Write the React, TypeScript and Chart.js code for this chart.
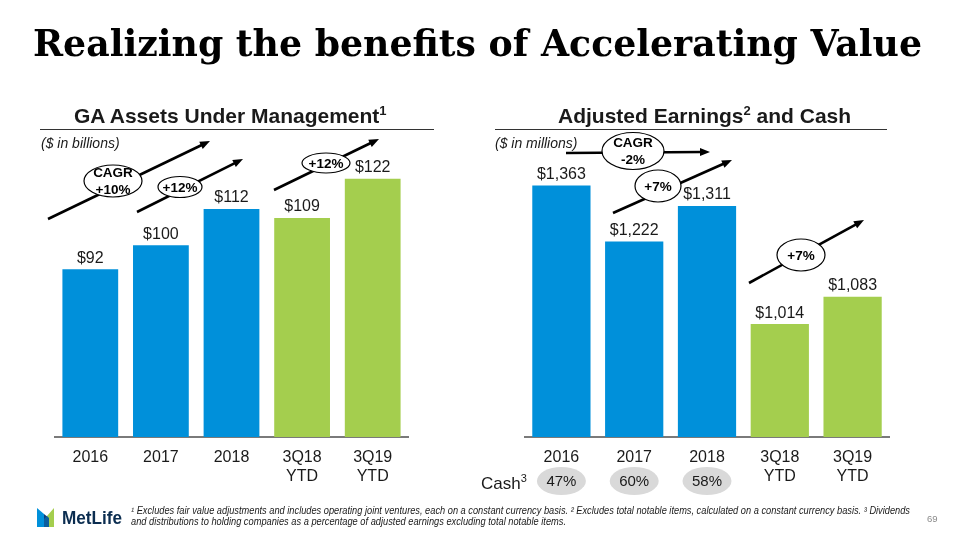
import React, { useEffect, useRef } from "react";
import { Chart, registerables } from "chart.js";

Chart.register(...registerables);

// ---------------- data ----------------
const categories: string[][] = [["2016"], ["2017"], ["2018"], ["3Q18", "YTD"], ["3Q19", "YTD"]];
const gaAssetsBillions = [92, 100, 112, 109, 122];
const adjustedEarningsMillions = [1363, 1222, 1311, 1014, 1083];
const cashPercent = [47, 60, 58];
const gaAxisRange = [36.5, 131.5];
const earningsAxisRange = [730, 1452];

// ---------------- style ----------------
const BLUE = "#0090DA";
const GREEN = "#A4CE4E";
const barColors = [BLUE, BLUE, BLUE, GREEN, GREEN];
const SANS = '"Liberation Sans", Arial, Helvetica, sans-serif';
const TEXT = "#1a1a1a";

const valueLabels = {
  id: "valueLabels",
  afterDatasetsDraw(chart: any) {
    const ctx = chart.ctx;
    const meta = chart.getDatasetMeta(0);
    const data = chart.data.datasets[0].data as number[];
    ctx.save();
    ctx.font = `16px ${SANS}`;
    ctx.fillStyle = TEXT;
    ctx.textAlign = "center";
    ctx.textBaseline = "bottom";
    meta.data.forEach((bar: any, i: number) => {
      ctx.fillText("$" + data[i].toLocaleString("en-US"), bar.x, bar.y - 3);
    });
    ctx.restore();
  },
};

const cashRow = {
  id: "cashRow",
  afterDraw(chart: any) {
    const ctx = chart.ctx;
    const xs = chart.scales.x;
    ctx.save();
    cashPercent.forEach((v, i) => {
      const x = xs.getPixelForValue(i);
      ctx.beginPath();
      ctx.ellipse(x, 481, 24.5, 14, 0, 0, Math.PI * 2);
      ctx.fillStyle = "#d9d9d9";
      ctx.fill();
      ctx.fillStyle = TEXT;
      ctx.font = `15px ${SANS}`;
      ctx.textAlign = "center";
      ctx.textBaseline = "middle";
      ctx.fillText(`${v}%`, x, 482);
    });
    ctx.restore();
  },
};

type PanelProps = {
  values: number[];
  range: number[];
  padLeft: number;
  padRight: number;
  barPct: number;
  left: number;
  extra?: any[];
};

function BarPanel({ values, range, padLeft, padRight, barPct, left, extra = [] }: PanelProps) {
  const ref = useRef<HTMLCanvasElement>(null);
  useEffect(() => {
    const chart = new Chart(ref.current as HTMLCanvasElement, {
      type: "bar",
      data: {
        labels: categories,
        datasets: [
          {
            data: values,
            backgroundColor: barColors,
            borderWidth: 0,
            barPercentage: barPct,
            categoryPercentage: 1,
          },
        ],
      },
      options: {
        animation: false,
        responsive: false,
        maintainAspectRatio: false,
        events: [],
        layout: { padding: { left: padLeft, right: padRight, top: 150, bottom: 0 } },
        plugins: {
          legend: { display: false },
          tooltip: { enabled: false },
          title: { display: false },
        },
        scales: {
          x: {
            grid: { display: false, drawTicks: false },
            border: { display: true, color: "#7a7a7a", width: 2 },
            ticks: {
              color: TEXT,
              font: { family: SANS, size: 16 },
              padding: 11,
              maxRotation: 0,
              autoSkip: false,
            },
            afterFit: (s: any) => {
              s.height = 103;
            },
          },
          y: { display: false, min: range[0], max: range[1] },
        },
      } as any,
      plugins: [valueLabels, ...extra],
    });
    return () => chart.destroy();
  }, []);
  return (
    <canvas
      ref={ref}
      width={480}
      height={540}
      style={{ position: "absolute", left, top: 0, width: 480, height: 540 }}
    />
  );
}

function Arrow({ x1, y1, x2, y2 }: { x1: number; y1: number; x2: number; y2: number }) {
  const a = Math.atan2(y2 - y1, x2 - x1);
  const L = 10;
  const W = 4;
  const bx = x2 - L * Math.cos(a);
  const by = y2 - L * Math.sin(a);
  const px = -Math.sin(a) * W;
  const py = Math.cos(a) * W;
  return (
    <g>
      <line x1={x1} y1={y1} x2={bx + 2 * Math.cos(a)} y2={by + 2 * Math.sin(a)} stroke="#000" strokeWidth={2.6} />
      <polygon points={`${x2},${y2} ${bx + px},${by + py} ${bx - px},${by - py}`} fill="#000" />
    </g>
  );
}

function Bubble({ cx, cy, rx, ry, lines }: { cx: number; cy: number; rx: number; ry: number; lines: string[] }) {
  const gap = 17;
  const start = cy - ((lines.length - 1) * gap) / 2;
  return (
    <g>
      <ellipse cx={cx} cy={cy} rx={rx} ry={ry} fill="#fff" stroke="#000" strokeWidth={1.2} />
      {lines.map((t, i) => (
        <text
          key={i}
          x={cx}
          y={start + i * gap}
          textAnchor="middle"
          dominantBaseline="central"
          fontFamily={SANS}
          fontWeight="bold"
          fontSize={13.5}
          fill="#000"
        >
          {t}
        </text>
      ))}
    </g>
  );
}

function Overlay() {
  return (
    <svg
      width={960}
      height={540}
      style={{ position: "absolute", left: 0, top: 0, pointerEvents: "none" }}
    >
      <text
        x={33}
        y={56}
        fontFamily='"DejaVu Serif", "Liberation Serif", serif'
        fontWeight="bold"
        fontSize={37}
        textLength={889}
        lengthAdjust="spacingAndGlyphs"
        fill="#000"
      >
        Realizing the benefits of Accelerating Value
      </text>

      {/* panel headers */}
      <text x={74} y={123} fontFamily={SANS} fontWeight="bold" fontSize={21} fill={TEXT}>
        GA Assets Under Management
        <tspan fontSize={13} dy={-8}>1</tspan>
      </text>
      <line x1={40} y1={129.5} x2={434} y2={129.5} stroke="#333" strokeWidth={1} />
      <text x={558} y={123} fontFamily={SANS} fontWeight="bold" fontSize={21} fill={TEXT}>
        Adjusted Earnings
        <tspan fontSize={13} dy={-8}>2</tspan>
        <tspan dy={8}> and Cash</tspan>
      </text>
      <line x1={495} y1={129.5} x2={887} y2={129.5} stroke="#333" strokeWidth={1} />

      <text x={41} y={148} fontFamily={SANS} fontStyle="italic" fontSize={14} fill={TEXT}>
        ($ in billions)
      </text>
      <text x={495} y={148} fontFamily={SANS} fontStyle="italic" fontSize={14} fill={TEXT}>
        ($ in millions)
      </text>

      {/* growth annotations, left */}
      <Arrow x1={48} y1={219} x2={210} y2={141} />
      <Bubble cx={113} cy={181} rx={29} ry={16} lines={["CAGR", "+10%"]} />
      <Arrow x1={137} y1={212} x2={243} y2={159} />
      <Bubble cx={180} cy={187} rx={22} ry={10.5} lines={["+12%"]} />
      <Arrow x1={274} y1={190} x2={379} y2={139} />
      <Bubble cx={326} cy={163} rx={24} ry={10} lines={["+12%"]} />

      {/* growth annotations, right */}
      <Arrow x1={566} y1={153} x2={710} y2={152} />
      <Bubble cx={633} cy={151} rx={31} ry={18.5} lines={["CAGR", "-2%"]} />
      <Arrow x1={613} y1={213} x2={732} y2={160} />
      <Bubble cx={658} cy={186} rx={23} ry={16} lines={["+7%"]} />
      <Arrow x1={749} y1={283} x2={864} y2={220} />
      <Bubble cx={801} cy={255} rx={24} ry={16} lines={["+7%"]} />

      {/* cash label */}
      <text x={481} y={489} fontFamily={SANS} fontSize={17} fill={TEXT}>
        Cash
        <tspan fontSize={11} dy={-7}>3</tspan>
      </text>

      {/* logo */}
      <polygon points="37,508 44,514 44,527 37,527" fill="#0090DA" />
      <polygon points="44,514 49,518 49,527 44,527" fill="#0B3E7A" />
      <polygon points="47,516 54,508 54,527 47,527" fill="#A4CE4E" />
      <polygon points="44,519 47,516 49,518 49,527 44,527" fill="#0B5E9E" />
      <text
        x={62}
        y={524}
        fontFamily={SANS}
        fontWeight="bold"
        fontSize={19}
        textLength={60}
        lengthAdjust="spacingAndGlyphs"
        fill="#0B2D50"
      >
        MetLife
      </text>

      {/* footnotes */}
      <text
        x={131}
        y={514}
        fontFamily={SANS}
        fontStyle="italic"
        fontSize={10.2}
        textLength={779}
        lengthAdjust="spacingAndGlyphs"
        fill={TEXT}
      >
        ¹ Excludes fair value adjustments and includes operating joint ventures, each on a constant currency basis. ² Excludes total notable items, calculated on a constant currency basis. ³ Dividends
      </text>
      <text
        x={131}
        y={525}
        fontFamily={SANS}
        fontStyle="italic"
        fontSize={10.2}
        textLength={435}
        lengthAdjust="spacingAndGlyphs"
        fill={TEXT}
      >
        and distributions to holding companies as a percentage of adjusted earnings excluding total notable items.
      </text>
      <text x={927} y={522} fontFamily={SANS} fontSize={9.5} fill="#8a8a8a">
        69
      </text>
    </svg>
  );
}

export default function App() {
  return (
    <div
      style={{
        position: "absolute",
        left: 0,
        top: 0,
        width: 960,
        height: 540,
        background: "#fff",
        overflow: "hidden",
        fontFamily: SANS,
      }}
    >
      <BarPanel values={gaAssetsBillions} range={gaAxisRange} padLeft={55} padRight={72} barPct={0.79} left={0} />
      <BarPanel
        values={adjustedEarningsMillions}
        range={earningsAxisRange}
        padLeft={45}
        padRight={71}
        barPct={0.8}
        left={480}
        extra={[cashRow]}
      />
      <Overlay />
    </div>
  );
}
